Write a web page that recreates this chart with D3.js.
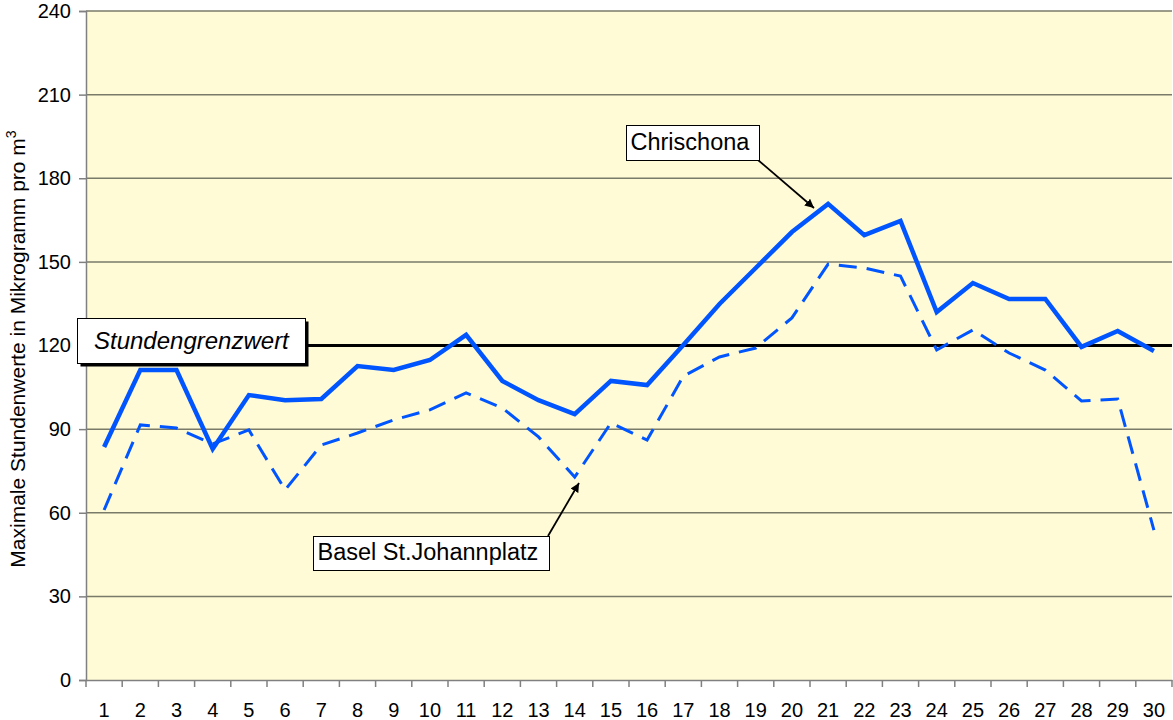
<!DOCTYPE html>
<html><head><meta charset="utf-8">
<script src="https://cdn.jsdelivr.net/npm/d3@7"></script>
<style>body{margin:0;background:#fff;font-family:Arial,"Liberation Sans",sans-serif}</style>
</head><body><svg id="c" width="1173" height="720"></svg>
<script>
const days = d3.range(1, 31).map(String);
const chrischona = [83.6,111.2,111.2,82.9,102.2,100.4,100.8,112.6,111.2,114.8,123.8,107.3,100.4,95.4,107.3,105.8,120.2,134.9,147.8,160.7,170.8,159.6,164.7,132,142.4,136.7,136.7,119.5,125.2,118];
const basel = [61,91.5,90.4,84.7,89.7,68.2,84.3,88.6,93.3,96.9,103,97.6,87.2,72.8,92.2,86.1,109,115.9,119.1,129.9,149.2,147.8,144.9,118.4,125.6,117.3,111.2,100.1,100.8,53.8];
const yTicks = [0,30,60,90,120,150,180,210,240];
const limit = 120;

const svg = d3.select('#c');
const L=86, R=1172, T=11, B=680;
const FONT = 'Arial, Liberation Sans';
const x = d3.scaleBand().domain(days).range([L,R]);
const y = d3.scaleLinear().domain([0,240]).range([B,T]);

svg.append('rect').attr('x',L).attr('y',T).attr('width',R-L).attr('height',B-T).attr('fill','#FFFBD6');
svg.append('g').selectAll('line').data(yTicks.filter(d=>d>0)).join('line')
  .attr('x1',L).attr('x2',R).attr('y1',d=>y(d)).attr('y2',d=>y(d))
  .attr('stroke','#7a7a68').attr('stroke-width',1.5);

const ya = svg.append('g').attr('transform',`translate(${L},0)`)
  .call(d3.axisLeft(y).tickValues(yTicks).tickSize(7).tickPadding(8));
ya.select('.domain').attr('stroke','#808080').attr('stroke-width',1.5);
ya.selectAll('.tick line').attr('stroke','#808080').attr('stroke-width',1.5);
ya.selectAll('text').attr('font-size',20).attr('font-family',FONT).attr('fill','#000');

const xa = svg.append('g').attr('transform',`translate(0,${B})`)
  .call(d3.axisBottom(x).tickSize(0).tickPadding(23));
xa.select('.domain').attr('stroke','#808080').attr('stroke-width',1.5);
xa.selectAll('text').attr('font-size',20).attr('font-family',FONT).attr('fill','#000');
svg.append('g').selectAll('line').data(days.concat(['end'])).join('line')
  .attr('x1',(d,i)=>L+i*x.step()).attr('x2',(d,i)=>L+i*x.step())
  .attr('y1',B).attr('y2',B+7).attr('stroke','#808080').attr('stroke-width',1.5);

svg.append('text').attr('transform','translate(25,349) rotate(-90)').attr('text-anchor','middle')
  .attr('font-size',21).attr('font-family',FONT)
  .html('Maximale Stundenwerte in Mikrogramm pro m<tspan dy="-9" font-size="14">3</tspan>');

// limit line
svg.append('line').attr('x1',L).attr('x2',R).attr('y1',y(limit)).attr('y2',y(limit))
  .attr('stroke','#000').attr('stroke-width',3);

const line = d3.line().x((d,i)=>x(days[i])+x.bandwidth()/2).y(d=>y(d));
svg.append('path').datum(basel).attr('d',line).attr('fill','none')
  .attr('stroke','#0055FF').attr('stroke-width',3).attr('stroke-dasharray','18,10');
svg.append('path').datum(chrischona).attr('d',line).attr('fill','none')
  .attr('stroke','#0055FF').attr('stroke-width',4.5).attr('stroke-linejoin','miter');

// limit label with shadow
svg.append('rect').attr('x',80.5).attr('y',321.5).attr('width',228).attr('height',45).attr('fill','#000');
svg.append('rect').attr('x',77.5).attr('y',318.5).attr('width',228).attr('height',45).attr('fill','#fff').attr('stroke','#000').attr('stroke-width',1);
svg.append('text').attr('x',94).attr('y',349).attr('font-size',24).attr('font-style','italic')
  .attr('font-family',FONT).text('Stundengrenzwert');

// arrows
const defs = svg.append('defs');
defs.append('marker').attr('id','ah').attr('viewBox','0 0 10 10').attr('refX',10).attr('refY',5)
  .attr('markerWidth',5).attr('markerHeight',5).attr('orient','auto-start-reverse')
  .append('path').attr('d','M0,0 L10,5 L0,10 z').attr('fill','#000');

function callout(tx,ty,w,h,label,ax1,ay1,ax2,ay2,bl){
  svg.append('line').attr('x1',ax1).attr('y1',ay1).attr('x2',ax2).attr('y2',ay2)
    .attr('stroke','#000').attr('stroke-width',1.8).attr('marker-end','url(#ah)');
  svg.append('rect').attr('x',tx).attr('y',ty).attr('width',w).attr('height',h)
    .attr('fill','#fff').attr('stroke','#000').attr('stroke-width',1);
  svg.append('text').attr('x',tx+4).attr('y',ty+bl).attr('font-size',23.5)
    .attr('font-family',FONT).text(label);
}
callout(626.5,125.5,133,35,'Chrischona',758,160,814,208,24);
callout(313.5,536.5,236,34,'Basel St.Johannplatz',548,536,579,483,23);
</script></body></html>
